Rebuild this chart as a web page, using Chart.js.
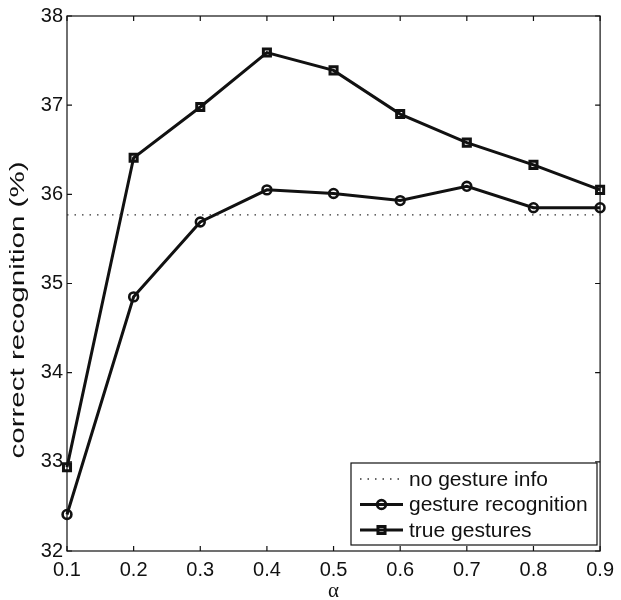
<!DOCTYPE html>
<html>
<head>
<meta charset="utf-8">
<script src="https://cdn.jsdelivr.net/npm/chart.js@4.4.0/dist/chart.umd.min.js"></script>
<style>
    html, body { margin: 0; padding: 0; background: #fff; }
    canvas { display: block; }
</style>
</head>
<body>
<canvas id="recognitionChart" width="621" height="600"></canvas>
<script>
const alphas = [0.1, 0.2, 0.3, 0.4, 0.5, 0.6, 0.7, 0.8, 0.9];
const gestureRecognition = [32.41, 34.85, 35.69, 36.05, 36.01, 35.93, 36.09, 35.85, 35.85];
const trueGestures = [32.94, 36.41, 36.98, 37.59, 37.39, 36.90, 36.58, 36.33, 36.05];
const noGestureInfo = 35.77;
const xTicks = [0.1, 0.2, 0.3, 0.4, 0.5, 0.6, 0.7, 0.8, 0.9];
const yTicks = [32, 33, 34, 35, 36, 37, 38];
const seriesLabels = ['no gesture info', 'gesture recognition', 'true gestures'];
const yTitleText = 'correct recognition (%)';
const xTitleText = 'α';

const FONT = '"Liberation Sans", Arial, sans-serif';
const INK = '#111';

Chart.defaults.font.family = FONT;
Chart.defaults.color = INK;

function toPoints(values) {
    return alphas.map((a, i) => ({ x: a, y: values[i] }));
}

// box round the plot with inward ticks on all four sides
const boxTicks = {
    id: 'boxTicks',
    beforeDatasetsDraw(chart) {
        const { ctx, chartArea: a, scales } = chart;
        const len = 5;
        ctx.save();
        ctx.strokeStyle = INK;
        ctx.lineWidth = 1.2;
        ctx.strokeRect(a.left, a.top, a.right - a.left, a.bottom - a.top);
        ctx.beginPath();
        xTicks.forEach(v => {
            const x = scales.x.getPixelForValue(v);
            ctx.moveTo(x, a.bottom); ctx.lineTo(x, a.bottom - len);
            ctx.moveTo(x, a.top); ctx.lineTo(x, a.top + len);
        });
        yTicks.forEach(v => {
            const y = scales.y.getPixelForValue(v);
            ctx.moveTo(a.left, y); ctx.lineTo(a.left + len, y);
            ctx.moveTo(a.right, y); ctx.lineTo(a.right - len, y);
        });
        ctx.stroke();
        ctx.restore();
    }
};

// rotated y title, stretched to the length it has in the figure
const yTitle = {
    id: 'yTitle',
    afterDraw(chart) {
        const ctx = chart.ctx;
        ctx.save();
        ctx.font = '20px ' + FONT;
        const w = ctx.measureText(yTitleText).width;
        ctx.translate(24, 310);
        ctx.rotate(-Math.PI / 2);
        ctx.scale(297 / w, 1);
        ctx.textAlign = 'center';
        ctx.textBaseline = 'alphabetic';
        ctx.fillStyle = INK;
        ctx.fillText(yTitleText, 0, 0);
        ctx.restore();
    }
};

// legend box in the lower right corner
const legendBox = {
    id: 'legendBox',
    afterDraw(chart) {
        const ctx = chart.ctx;
        const left = 351, top = 463, width = 246, height = 82;
        const rows = [479, 504.5, 530];
        ctx.save();
        ctx.fillStyle = '#fff';
        ctx.fillRect(left, top, width, height);
        ctx.strokeStyle = INK;
        ctx.lineWidth = 1.2;
        ctx.strokeRect(left, top, width, height);

        chart.data.datasets.forEach((ds, i) => {
            const y = rows[i];
            ctx.save();
            ctx.strokeStyle = ds.borderColor;
            ctx.lineWidth = ds.borderWidth;
            ctx.setLineDash(ds.borderDash || []);
            ctx.beginPath();
            ctx.moveTo(360, y);
            ctx.lineTo(403, y);
            ctx.stroke();
            ctx.restore();
            if (ds.pointRadius > 0) {
                ctx.save();
                ctx.strokeStyle = ds.pointBorderColor;
                ctx.fillStyle = 'rgba(0,0,0,0)';
                ctx.lineWidth = ds.pointBorderWidth;
                Chart.helpers.drawPoint(ctx, {
                    pointStyle: ds.pointStyle,
                    radius: ds.pointRadius,
                    borderWidth: ds.pointBorderWidth,
                    rotation: 0
                }, 381.5, y);
                ctx.restore();
            }
            ctx.fillStyle = INK;
            ctx.font = '21px ' + FONT;
            ctx.textAlign = 'left';
            ctx.textBaseline = 'middle';
            ctx.fillText(ds.label, 409, y + 1);
        });
        ctx.restore();
    }
};

const ctx = document.getElementById('recognitionChart').getContext('2d');
const recognitionChart = new Chart(ctx, {
    type: 'line',
    data: {
        datasets: [{
            label: seriesLabels[0],
            data: toPoints(alphas.map(() => noGestureInfo)),
            borderColor: '#333',
            borderWidth: 1.3,
            borderDash: [1.5, 6],
            pointRadius: 0,
            clip: false
        }, {
            label: seriesLabels[1],
            data: toPoints(gestureRecognition),
            borderColor: INK,
            borderWidth: 3,
            pointStyle: 'circle',
            pointRadius: 4.4,
            pointBorderWidth: 2.6,
            pointBorderColor: INK,
            pointBackgroundColor: 'rgba(0,0,0,0)',
            clip: false
        }, {
            label: seriesLabels[2],
            data: toPoints(trueGestures),
            borderColor: INK,
            borderWidth: 3,
            pointStyle: 'rect',
            pointRadius: 5,
            pointBorderWidth: 3,
            pointBorderColor: INK,
            pointBackgroundColor: 'rgba(0,0,0,0)',
            clip: false
        }]
    },
    options: {
        responsive: false,
        animation: false,
        events: [],
        layout: { padding: { top: 15, right: 17, left: 0, bottom: 0 } },
        plugins: {
            legend: { display: false },
            tooltip: { enabled: false }
        },
        scales: {
            x: {
                type: 'linear',
                min: 0.1,
                max: 0.9,
                afterBuildTicks: scale => { scale.ticks = xTicks.map(v => ({ value: v })); },
                afterFit: scale => { scale.height = 49; },
                grid: { display: false, drawTicks: false },
                border: { display: false },
                ticks: {
                    padding: 7,
                    font: { size: 20 },
                    color: INK,
                    maxRotation: 0,
                    callback: v => Number(v).toFixed(1)
                },
                title: {
                    display: true,
                    text: xTitleText,
                    font: { family: '"Liberation Serif", "DejaVu Serif", serif', size: 21, lineHeight: 1 },
                    color: INK,
                    padding: { top: 0, bottom: -2 }
                }
            },
            y: {
                min: 32,
                max: 38,
                afterBuildTicks: scale => { scale.ticks = yTicks.map(v => ({ value: v })); },
                afterFit: scale => { scale.width = 67; },
                grid: { display: false, drawTicks: false },
                border: { display: false },
                ticks: {
                    padding: 4,
                    font: { size: 20 },
                    color: INK
                }
            }
        }
    },
    plugins: [boxTicks, yTitle, legendBox]
});
</script>
</body>
</html>
